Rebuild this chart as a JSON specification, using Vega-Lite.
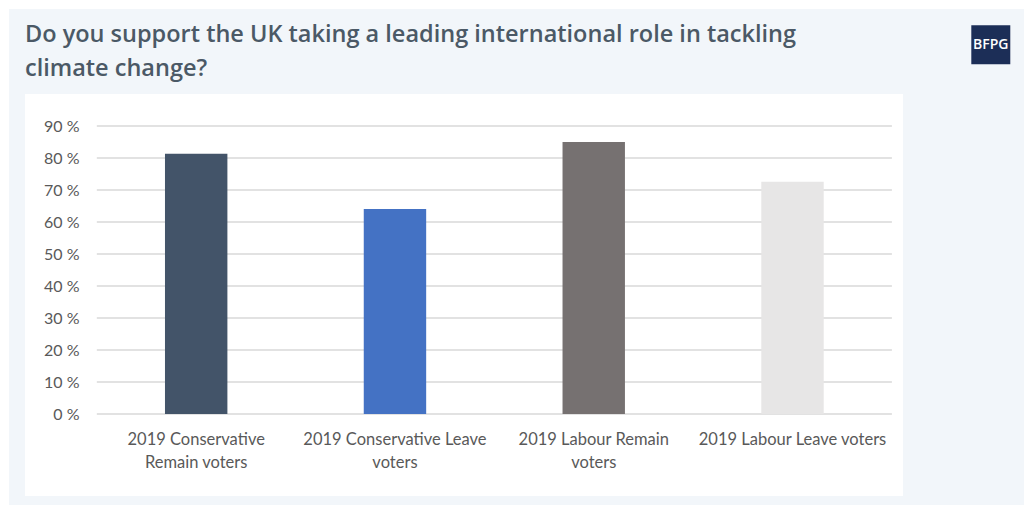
{
  "$schema": "https://vega.github.io/schema/vega-lite/v6.json",
  "width": 878,
  "height": 402,
  "autosize": "none",
  "padding": {"left": 25, "top": 94, "right": 121, "bottom": 9},
  "background": "white",
  "view": {"stroke": null},
  "title": {
    "text": ["Do you support the UK taking a leading international role in tackling", "climate change?"],
    "anchor": "start",
    "frame": "group",
    "font": "Open Sans",
    "fontSize": 23.5,
    "fontWeight": 600,
    "color": "#4b5966",
    "lineHeight": 34,
    "offset": -71
  },
  "layer": [
    {
      "data": {"values": [{"part": "panel"}]},
      "mark": {"type": "rect", "color": "#f2f6fa", "clip": false},
      "encoding": {
        "x": {"datum": -1.822, "type": "quantitative", "scale": {"domain": [0, 100]}, "axis": null},
        "x2": {"datum": 113.8},
        "y": {"datum": 126.56, "type": "quantitative"},
        "y2": {"datum": -28.5}
      }
    },
    {
      "data": {"values": [{"part": "plot box"}]},
      "mark": {"type": "rect", "color": "white", "clip": false},
      "encoding": {
        "x": {"datum": 0, "type": "quantitative", "scale": {"domain": [0, 100]}, "axis": null},
        "x2": {"datum": 100},
        "y": {"datum": 100, "type": "quantitative"},
        "y2": {"datum": -25.625}
      }
    },
    {
      "data": {"values": [{"tick": 0}, {"tick": 10}, {"tick": 20}, {"tick": 30}, {"tick": 40}, {"tick": 50}, {"tick": 60}, {"tick": 70}, {"tick": 80}, {"tick": 90}]},
      "mark": {"type": "rule", "color": "#d9d9d9", "strokeWidth": 1.5},
      "encoding": {
        "x": {"datum": 8.178, "type": "quantitative", "scale": {"domain": [0, 100]}, "axis": null},
        "x2": {"datum": 98.736},
        "y": {"field": "tick", "type": "quantitative"}
      }
    },
    {
      "data": {
        "values": [
          {"group": "2019 Conservative Remain voters", "support": 81.3},
          {"group": "2019 Conservative Leave voters", "support": 64.1},
          {"group": "2019 Labour Remain voters", "support": 85.0},
          {"group": "2019 Labour Leave voters", "support": 72.6}
        ]
      },
      "mark": {"type": "bar", "width": {"band": 0.314}},
      "encoding": {
        "x": {
          "field": "group",
          "type": "nominal",
          "sort": null,
          "scale": {"range": [71.8, 866.9], "paddingInner": 0, "paddingOuter": 0},
          "axis": {
            "title": null,
            "orient": "bottom",
            "offset": -82,
            "zindex": 1,
            "domain": false,
            "ticks": false,
            "grid": false,
            "labelAngle": 0,
            "labelPadding": 25,
            "labelBaseline": "middle",
            "labelLineHeight": 23,
            "labelFont": "Lato",
            "labelFontSize": 16.5,
            "labelColor": "#595959",
            "labelLimit": 300,
            "labelExpr": "datum.value == '2019 Conservative Remain voters' ? ['2019 Conservative', 'Remain voters'] : datum.value == '2019 Conservative Leave voters' ? ['2019 Conservative Leave', 'voters'] : datum.value == '2019 Labour Remain voters' ? ['2019 Labour Remain', 'voters'] : datum.label"
          }
        },
        "y": {
          "field": "support",
          "type": "quantitative",
          "scale": {"domain": [0, 90], "range": [320, 32], "nice": false},
          "axis": {
            "title": null,
            "orient": "left",
            "offset": -54,
            "zindex": 1,
            "values": [0, 10, 20, 30, 40, 50, 60, 70, 80, 90],
            "domain": false,
            "ticks": false,
            "grid": false,
            "labelPadding": 0,
            "labelFont": "Lato",
            "labelFontSize": 16,
            "labelColor": "#595959",
            "labelExpr": "datum.value + ' %'"
          }
        },
        "color": {
          "field": "group",
          "type": "nominal",
          "sort": null,
          "scale": {"range": ["#435469", "#4472c4", "#767171", "#e7e6e6"]},
          "legend": null
        }
      }
    },
    {
      "data": {"values": [{"logo": "BFPG"}]},
      "mark": {"type": "rect", "color": "#1c2e57", "clip": false},
      "encoding": {
        "x": {"datum": 107.78, "type": "quantitative", "scale": {"domain": [0, 100]}, "axis": null},
        "x2": {"datum": 112.22},
        "y": {"datum": 121.5, "type": "quantitative"},
        "y2": {"datum": 109.3}
      }
    },
    {
      "data": {"values": [{"logo": "BFPG"}]},
      "mark": {"type": "text", "color": "white", "font": "Open Sans", "fontSize": 14, "fontWeight": 600, "align": "center", "baseline": "middle", "clip": false},
      "encoding": {
        "x": {"datum": 110.0, "type": "quantitative", "scale": {"domain": [0, 100]}, "axis": null},
        "y": {"datum": 115.4, "type": "quantitative"},
        "text": {"field": "logo"}
      }
    }
  ],
  "resolve": {"scale": {"x": "independent", "color": "independent"}}
}
